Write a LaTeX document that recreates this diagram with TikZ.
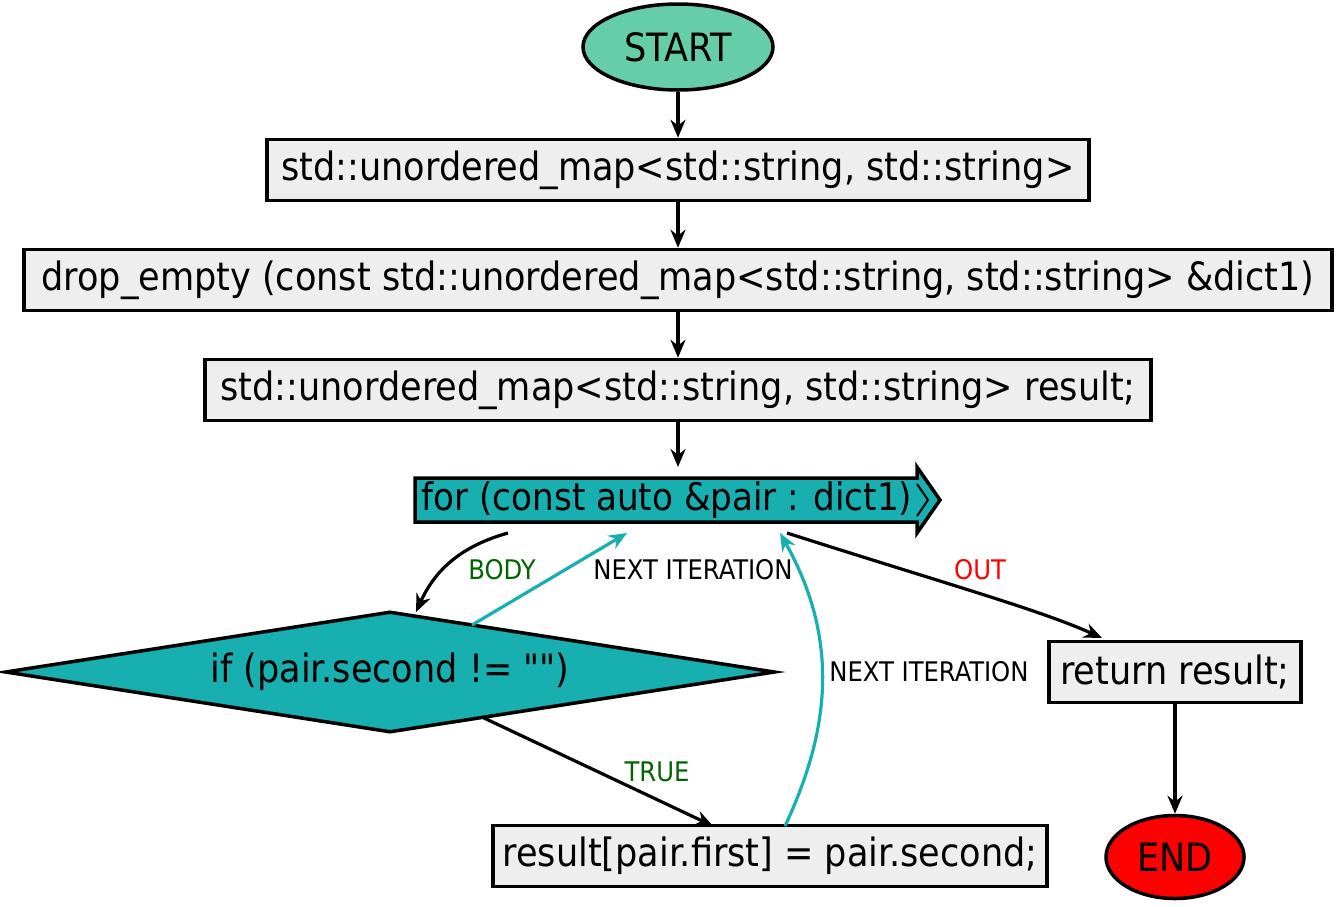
\documentclass[tikz,border=0pt]{standalone}
\usepackage{fontspec}
\setmainfont{DejaVu Sans Condensed}
\newfontfamily\qfont{DejaVu Sans Condensed}
\usetikzlibrary{shapes.geometric,arrows.meta}
\definecolor{startc}{HTML}{66CDAA}
\definecolor{tealc}{HTML}{17AFB0}
\definecolor{boxc}{HTML}{EEEEEE}
\definecolor{truec}{HTML}{006400}
\definecolor{outc}{HTML}{FF0000}
\tikzset{
  base/.style={line width=3.5pt, draw=black, inner sep=0pt, font=\fontsize{39}{42}\selectfont},
  procbox/.style={base, rectangle, fill=boxc, minimum height=61pt},
  oval/.style={base, ellipse},
  conn/.style={line width=3.2pt, -{Stealth[length=18pt,width=15pt]}},
  loopc/.style={conn, draw=tealc},
  lbl/.style={font=\fontsize{27}{29}\selectfont, inner sep=1pt}
}
\begin{document}
\begin{tikzpicture}[x=1pt,y=-1pt]
\useasboundingbox (0,0) rectangle (1337,906);
\node[oval, fill=startc, minimum width=190pt, minimum height=86pt] (start) at (678,47) {START};
\node[procbox, minimum width=822pt] (b1) at (678,170) {std::unordered\_map<std::string, std::string>};
\node[procbox, minimum width=1308pt] (b2) at (678,280) {drop\_empty (const std::unordered\_map<std::string, std::string> \&dict1)};
\node[procbox, minimum width=946pt] (b3) at (678,390) {std::unordered\_map<std::string, std::string> result;};
% for loop arrow shape
\fill[tealc] (415,478) -- (917,478) -- (917,467) -- (940,500) -- (917,533) -- (917,522) -- (415,522) -- cycle;
\draw[line width=3.5pt, line join=miter] (415,478) -- (917,478) -- (917,467) -- (940,500) -- (917,533) -- (917,522) -- (415,522) -- cycle;
\draw[line width=2pt] (917,484) -- (928,500) -- (917,516);
\node[base, draw=none, minimum width=525pt, minimum height=66pt, font=\fontsize{38}{41}\selectfont] (for) at (667,500) {for (const auto \&pair : dict1)};
\node[base, diamond, aspect=6.4, fill=tealc, minimum width=770pt, minimum height=121pt] (if) at (390,672) {if (pair.second != {\qfont ""})};
\node[procbox, minimum width=252pt] (ret) at (1175,672) {return result;};
\node[procbox, minimum width=554pt] (asg) at (770,856) {result[pair.first] = pair.second;};
\node[oval, fill=red, minimum width=138pt, minimum height=83pt] (end) at (1175,857) {END};
% connectors
\draw[conn] (start) -- (b1);
\draw[conn] (b1) -- (b2);
\draw[conn] (b2) -- (b3);
\draw[conn] (b3.south) -- (678,467);
\draw[conn] (508,533) to[bend right=25] (416,612);
\draw[loopc] (472,625) -- (627,533);
\draw[conn] (484,718) -- (713,826);
\draw[loopc] (785,826) .. controls (830,730) and (840,640) .. (780,533);
\draw[conn] (787,533) .. controls (950,585) and (1040,610) .. (1102,638);
\draw[conn] (ret) -- (end);
% labels
\node[lbl, text=truec] (lbody) at (502,570) {BODY};
\node[lbl] (lnext1) at (693,570) {NEXT ITERATION};
\node[lbl, text=truec] (ltrue) at (657,772) {TRUE};
\node[lbl] (lnext2) at (929,672) {NEXT ITERATION};
\node[lbl, text=outc] (lout) at (980,570) {OUT};
\end{tikzpicture}
\end{document}
